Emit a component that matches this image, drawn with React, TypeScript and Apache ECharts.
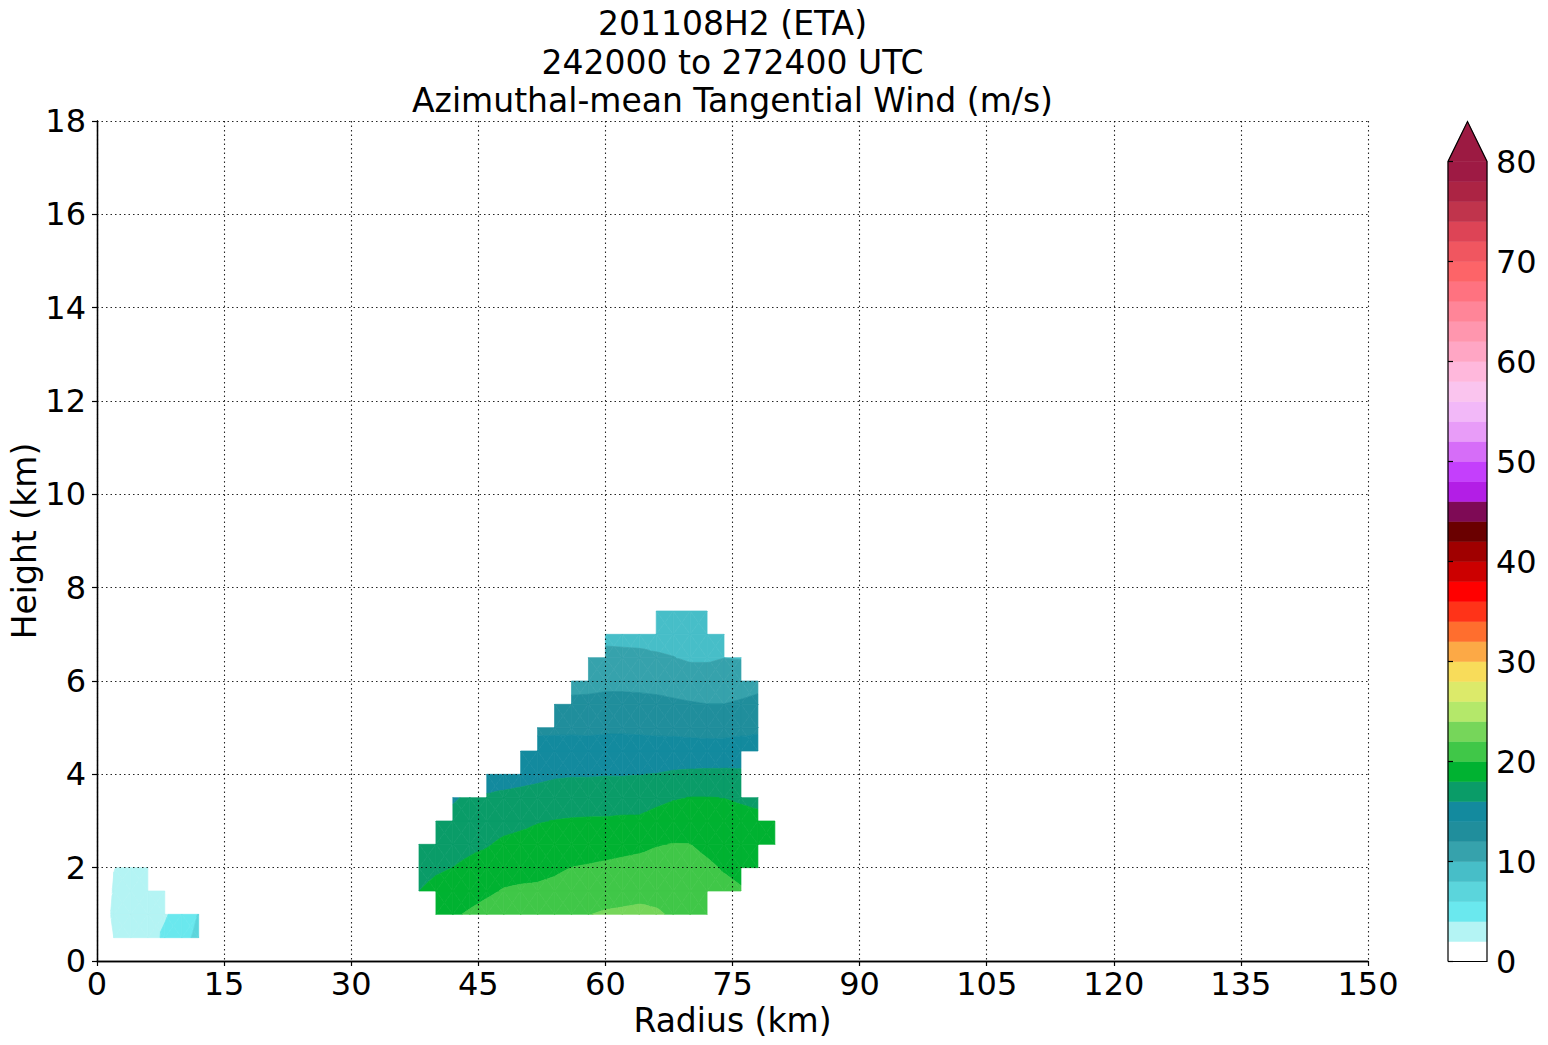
import React, { useEffect, useRef } from "react";
import * as echarts from "echarts";

const _ = null;
const FONT = "DejaVu Sans";

const titleLines = ["201108H2 (ETA)", "242000 to 272400 UTC", "Azimuthal-mean Tangential Wind (m/s)"];
const xAxisName = "Radius (km)";
const yAxisName = "Height (km)";

// contour levels (m/s) and fill colours
const levels = [0, 2, 4, 6, 8, 10, 12, 14, 16, 18, 20, 22, 24, 26, 28, 30, 32, 34, 36, 38, 40,
  42, 44, 46, 48, 50, 52, 54, 56, 58, 60, 62, 64, 66, 68, 70, 72, 74, 76, 78, 80];
const bandColors = [
  "#ffffff", "#b4f4f4", "#6ae8ee", "#5bd5dc", "#47bec8", "#36a2ac", "#208e9c", "#138a9e",
  "#0a9c68", "#00b231", "#40c748", "#76d65a", "#b4e86a", "#dcea6a", "#f8dc5a", "#fca946",
  "#ff6e2e", "#ff3318", "#ff0000", "#cc0000", "#a00000", "#6a0000", "#7e0a55", "#b31ee6",
  "#c43ffc", "#d66df8", "#e89cf8", "#f2b8f8", "#fac4ee", "#ffb8dc", "#ffa6c4", "#ff96ae",
  "#ff8598", "#ff7280", "#fd6468", "#f05660", "#dd4456", "#c0344c", "#ac2444", "#9e1a44",
];
const overColor = "#9c1a42";

// inner core patch (radius 0-12 km)
const coreRadii = [0, 2, 4, 6, 8, 10, 12];
const coreHeights = [0.5, 1.0, 1.5, 2.0];
const core05 = [0, 2.02, 2.8, 3.1, 4.35, 5.4, 6.5];
const core10 = [0, 2.47, 3.1, 3.4, 3.8, 4.8, 6.1];
const core15 = [0, 2.22, 2.9, 3.0, 2.8, _, _];
const core20 = [0, 1.95, 2.6, 2.5, _, _, _];

// eyewall region (radius 38-80 km)
const eyeRadii = [38, 40, 42, 44, 46, 48, 50, 52, 54, 56, 58, 60, 62, 64, 66, 68, 70, 72, 74, 76, 78, 80];
const eyeHeights = [1.0, 1.5, 2.0, 2.5, 3.0, 3.5, 4.0, 4.5, 5.0, 5.5, 6.0, 6.5, 7.0, 7.5];
const eye10 = [_, 19.5, 19.75, 20.22, 20.65, 21.0, 21.1, 21.1, 21.3, 21.7, 21.95, 22.2, 22.3, 22.4, 22.2, 21.8, 21.6, 21.0, _, _, _, _];
const eye15 = [18.0, 18.6, 18.85, 19.3, 19.7, 20.12, 20.25, 20.3, 20.5, 20.85, 21.05, 21.2, 21.35, 21.5, 21.5, 21.3, 21.2, 20.7, 20.5, 20.15, _, _];
const eye20 = [17.2, 17.7, 18.02, 18.4, 18.8, 19.25, 19.4, 19.5, 19.7, 20.02, 20.15, 20.3, 20.45, 20.6, 20.7, 20.75, 20.65, 20.3, 19.85, 19.5, 19.3, _];
const eye25 = [16.5, 16.9, 17.3, 17.6, 17.85, 18.35, 18.55, 18.7, 18.85, 19.05, 19.2, 19.3, 19.45, 19.6, 19.9, 20.05, 20.02, 19.6, 19.2, 19.0, 18.9, 18.9];
const eye30 = [_, 16.2, 16.5, 16.95, 17.0, 17.35, 17.6, 17.9, 18.05, 18.15, 18.2, 18.2, 18.3, 18.3, 18.7, 19.0, 19.0, 18.85, 18.65, 18.5, 18.4, 18.4];
const eye35 = [_, _, 15.8, 16.3, 16.15, 16.33, 16.5, 16.7, 16.95, 17.05, 17.05, 17.1, 17.1, 17.15, 17.5, 17.85, 18.05, 18.05, 17.98, 17.8, 17.6, _];
const eye40 = [_, _, _, _, 15.3, 15.3, 15.4, 15.55, 15.75, 15.85, 15.85, 15.9, 15.9, 15.98, 16.05, 16.25, 16.35, 16.4, 16.4, 16.35, _, _];
const eye45 = [_, _, _, _, _, _, 14.35, 14.65, 14.7, 14.75, 14.75, 14.8, 14.8, 14.8, 14.7, 14.85, 14.8, 14.8, 14.85, 14.9, 14.6, _];
const eye50 = [_, _, _, _, _, _, _, 13.65, 13.65, 13.65, 13.6, 13.7, 13.7, 13.65, 13.6, 13.5, 13.4, 13.3, 13.3, 13.5, 13.75, _];
const eye55 = [_, _, _, _, _, _, _, _, 12.6, 12.45, 12.5, 12.6, 12.6, 12.55, 12.5, 12.3, 12.15, 12.02, 12.02, 12.25, 12.5, _];
const eye60 = [_, _, _, _, _, _, _, _, _, 11.3, 11.35, 11.5, 11.5, 11.45, 11.3, 11.2, 11.0, 10.95, 10.95, 11.1, 11.4, _];
const eye65 = [_, _, _, _, _, _, _, _, _, _, 10.25, 10.5, 10.45, 10.4, 10.2, 10.05, 9.75, 9.75, 9.98, 9.9, _, _];
const eye70 = [_, _, _, _, _, _, _, _, _, _, _, 9.5, 9.45, 9.4, 9.4, 9.3, 9.2, 9.1, 9.3, _, _, _];
const eye75 = [_, _, _, _, _, _, _, _, _, _, _, _, _, _, 8.8, 8.7, 8.6, 8.6, _, _, _, _];

const coreRows = [core05, core10, core15, core20];
const eyeRows = [eye10, eye15, eye20, eye25, eye30, eye35, eye40, eye45, eye50, eye55, eye60, eye65, eye70, eye75];

type Band = { lo: number; hi: number; color: string };
const bands: Band[] = levels.slice(0, -1).map((lo, k) => ({ lo, hi: levels[k + 1], color: bandColors[k] }));
bands.push({ lo: levels[levels.length - 1], hi: Infinity, color: overColor });

function buildQuads(radii: number[], heights: number[], rows: (number | null)[][]) {
  const quads: number[][] = [];
  for (let j = 0; j < heights.length - 1; j++) {
    for (let i = 0; i < radii.length - 1; i++) {
      const a = rows[j][i], b = rows[j][i + 1], c = rows[j + 1][i], d = rows[j + 1][i + 1];
      if (a == null || b == null || c == null || d == null) continue;
      quads.push([radii[i], heights[j], radii[i + 1], heights[j + 1], a, b, c, d]);
    }
  }
  return quads;
}

type P = [number, number, number];
function clipPoly(poly: P[], level: number, keepAbove: boolean): P[] {
  const out: P[] = [];
  const n = poly.length;
  for (let i = 0; i < n; i++) {
    const a = poly[i], b = poly[(i + 1) % n];
    const ina = keepAbove ? a[2] >= level : a[2] <= level;
    const inb = keepAbove ? b[2] >= level : b[2] <= level;
    if (ina) out.push(a);
    if (ina !== inb) {
      const t = (level - a[2]) / (b[2] - a[2]);
      out.push([a[0] + t * (b[0] - a[0]), a[1] + t * (b[1] - a[1]), level]);
    }
  }
  return out;
}

function area(pts: number[][]) {
  let s = 0;
  for (let i = 0; i < pts.length; i++) {
    const a = pts[i], b = pts[(i + 1) % pts.length];
    s += a[0] * b[1] - b[0] * a[1];
  }
  return Math.abs(s) / 2;
}

function renderQuad(params: any, api: any) {
  const x0 = api.value(0), y0 = api.value(1), x1 = api.value(2), y1 = api.value(3);
  const v00 = api.value(4), v10 = api.value(5), v01 = api.value(6), v11 = api.value(7);
  const pc: P = [(x0 + x1) / 2, (y0 + y1) / 2, (v00 + v10 + v01 + v11) / 4];
  const p00: P = [x0, y0, v00], p10: P = [x1, y0, v10], p11: P = [x1, y1, v11], p01: P = [x0, y1, v01];
  const tris: P[][] = [[p00, p10, pc], [p10, p11, pc], [p11, p01, pc], [p01, p00, pc]];
  const children: any[] = [];
  for (const tri of tris) {
    const vs = tri.map((p) => p[2]);
    const vmin = Math.min(...vs), vmax = Math.max(...vs);
    for (const band of bands) {
      if (band.hi < vmin || band.lo > vmax) continue;
      let poly = clipPoly(tri, band.lo, true);
      if (poly.length < 3) continue;
      if (isFinite(band.hi)) poly = clipPoly(poly, band.hi, false);
      if (poly.length < 3) continue;
      const pts = poly.map((p) => api.coord([p[0], p[1]]));
      if (area(pts) < 0.01) continue;
      children.push({
        type: "polygon",
        shape: { points: pts },
        style: { fill: band.color, stroke: band.color, lineWidth: 0.7 },
      });
    }
  }
  return { type: "group", children };
}

function renderBand(params: any, api: any) {
  const k = api.value(0);
  const b = bands[k];
  if (!isFinite(b.hi)) {
    const top = b.lo + 4;
    return {
      type: "polygon",
      shape: { points: [api.coord([0, b.lo]), api.coord([0.5, top]), api.coord([1, b.lo])] },
      style: { fill: b.color, stroke: b.color, lineWidth: 0.5 },
    };
  }
  const p0 = api.coord([0, b.lo]);
  const p1 = api.coord([1, b.hi]);
  return {
    type: "rect",
    shape: { x: p0[0], y: p1[1], width: p1[0] - p0[0], height: p0[1] - p1[1] },
    style: { fill: b.color, stroke: b.color, lineWidth: 0.5 },
  };
}

function renderOutline(params: any, api: any) {
  const lo = levels[0], hi = levels[levels.length - 1];
  const pts = [
    api.coord([0, lo]), api.coord([0, hi]), api.coord([0.5, hi + 4]),
    api.coord([1, hi]), api.coord([1, lo]), api.coord([0, lo]),
  ];
  return { type: "polyline", shape: { points: pts }, style: { stroke: "#000", fill: null, lineWidth: 1.2 } };
}

const tickFont = { fontFamily: FONT, fontSize: 32, color: "#000" };
const nameFont = { fontFamily: FONT, fontSize: 33, color: "#000" };
const splitStyle = { show: true, lineStyle: { color: "rgba(0,0,0,0.85)", width: 1.1, type: [1.5, 3] as any } };
const spine = { show: true, lineStyle: { color: "#000", width: 1.3 } };
const ticks = { show: true, inside: false, length: 5, lineStyle: { color: "#000", width: 1.2 } };

export default function App() {
  const ref = useRef<HTMLDivElement>(null);
  useEffect(() => {
    if (!ref.current) return;
    const chart = echarts.init(ref.current, null, { renderer: "svg" });
    const quads = [...buildQuads(coreRadii, coreHeights, coreRows), ...buildQuads(eyeRadii, eyeHeights, eyeRows)];
    chart.setOption({
      animation: false,
      backgroundColor: "#fff",
      title: {
        text: titleLines.join("\n"),
        left: 732.5,
        top: 4,
        padding: 0,
        textAlign: "center",
        textStyle: { fontFamily: FONT, fontSize: 33, fontWeight: "normal", color: "#000", lineHeight: 38.7 },
      },
      grid: [
        { left: 97, top: 121, width: 1271, height: 840, containLabel: false, outerBoundsMode: "none" },
        { left: 1448, top: 161.5, width: 39, height: 800, containLabel: false, outerBoundsMode: "none" },
      ],
      xAxis: [
        {
          gridIndex: 0, type: "value", min: 0, max: 150, interval: 15, position: "bottom", z: 5,
          axisLine: spine, axisTick: ticks, splitLine: splitStyle,
          axisLabel: { ...tickFont, margin: 7 },
          name: xAxisName, nameLocation: "middle", nameGap: 43, nameTextStyle: nameFont,
          nameMoveOverlap: false,
        },
        {
          gridIndex: 0, type: "value", min: 0, max: 150, position: "top", z: 5,
          axisLine: spine, axisTick: { show: false }, axisLabel: { show: false }, splitLine: { show: false },
        },
        {
          gridIndex: 1, type: "value", min: 0, max: 1, show: false,
        },
      ],
      yAxis: [
        {
          gridIndex: 0, type: "value", min: 0, max: 18, interval: 2, position: "left", z: 5,
          axisLine: spine, axisTick: ticks, splitLine: splitStyle,
          axisLabel: { ...tickFont, margin: 11 },
          name: yAxisName, nameLocation: "middle", nameGap: 56, nameTextStyle: nameFont,
          nameMoveOverlap: false,
        },
        {
          gridIndex: 0, type: "value", min: 0, max: 18, position: "right", z: 5,
          axisLine: spine, axisTick: { show: false }, axisLabel: { show: false }, splitLine: { show: false },
        },
        {
          gridIndex: 1, type: "value", min: 0, max: 80, interval: 10, position: "right", z: 5,
          axisLine: { show: false }, axisTick: ticks, splitLine: { show: false },
          axisLabel: { ...tickFont, margin: 9 },
        },
      ],
      series: [
        {
          type: "custom", xAxisIndex: 0, yAxisIndex: 0, z: 1,
          renderItem: renderQuad, data: quads, silent: true,
        },
        {
          type: "custom", xAxisIndex: 2, yAxisIndex: 2, z: 1,
          renderItem: renderBand, data: bands.map((b, k) => [k]), silent: true,
        },
        {
          type: "custom", xAxisIndex: 2, yAxisIndex: 2, z: 3,
          renderItem: renderOutline, data: [[0]], silent: true,
        },
      ],
    });
    return () => chart.dispose();
  }, []);
  return (
    <div
      ref={ref}
      style={{ position: "absolute", left: 0, top: 0, width: 1548, height: 1045, background: "#fff" }}
    />
  );
}
